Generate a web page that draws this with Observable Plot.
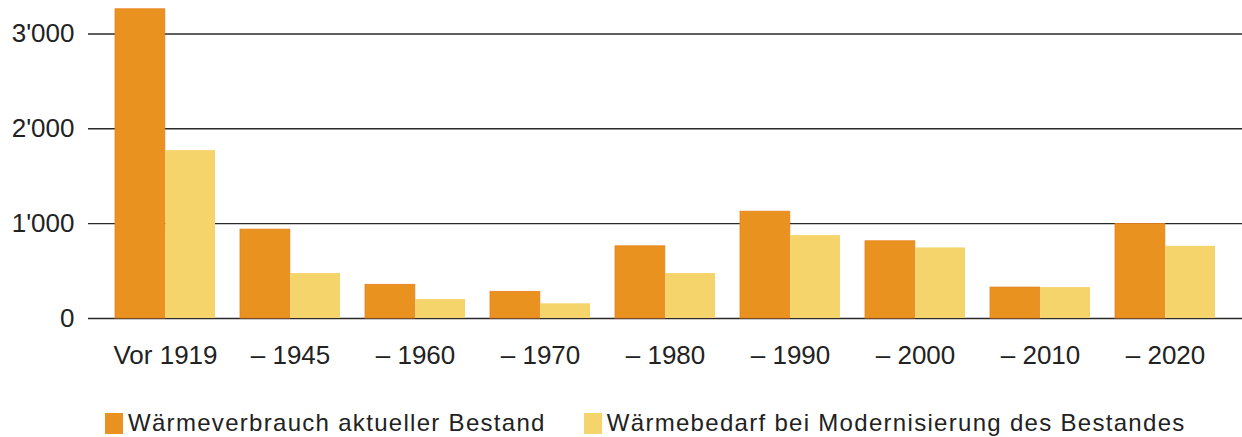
<!DOCTYPE html>
<html>
<head>
<meta charset="utf-8">
<script src="https://cdn.jsdelivr.net/npm/d3@7"></script>
<script src="https://cdn.jsdelivr.net/npm/@observablehq/plot@0.6"></script>
<style>
  html, body { margin: 0; padding: 0; background: #fff; }
  body { width: 1242px; height: 437px; overflow: hidden; font-family: "Liberation Sans", Arial, sans-serif; color: #222; }
  #chart svg { display: block; }
  .legend { display: flex; align-items: center; margin-left: 105px; margin-top: 17px; font-size: 24px; letter-spacing: 1.3px; }
  .legend .item { display: flex; align-items: center; margin-right: 38px; }
  .legend .sw { width: 18px; height: 21px; margin-right: 5px; }
</style>
</head>
<body>
<div id="chart"></div>
<div class="legend" id="legend"></div>
<script>
const periods = ["Vor 1919", "– 1945", "– 1960", "– 1970", "– 1980", "– 1990", "– 2000", "– 2010", "– 2020"];
const verbrauch = [3260, 937, 355, 281, 761, 1126, 814, 326, 997];
const bedarf = [1770, 474, 200, 155, 474, 874, 744, 326, 761];
const seriesNames = ["Wärmeverbrauch aktueller Bestand", "Wärmebedarf bei Modernisierung des Bestandes"];
const seriesColors = ["#e9921f", "#f6d46c"];
const yTicks = [0, 1000, 2000, 3000];
const yTickLabels = ["0", "1'000", "2'000", "3'000"];

const width = 1242, marginLeft = 88, marginRight = 0, pad = 0.2;
const step = (width - marginLeft - marginRight) / (periods.length - pad + 2 * pad);
const half = step * (1 - pad) / 2;

const dataA = periods.map((p, i) => ({period: p, value: verbrauch[i]}));
const dataB = periods.map((p, i) => ({period: p, value: bedarf[i]}));

const chart = Plot.plot({
  width, height: 392,
  marginLeft, marginRight, marginTop: 5, marginBottom: 74,
  style: {fontFamily: "'Liberation Sans', Arial, sans-serif", color: "#222", background: "#fff"},
  x: {domain: periods, padding: pad, label: null},
  y: {domain: [0, 3300], label: null},
  marks: [
    Plot.ruleY(yTicks, {stroke: "#2a2a2a", strokeWidth: 1.4}),
    Plot.barY(dataA, {x: "period", y: "value", fill: seriesColors[0], stroke: "#e6801c", strokeWidth: 0.8, insetRight: half}),
    Plot.barY(dataB, {x: "period", y: "value", fill: seriesColors[1], insetLeft: half}),
    Plot.axisY({ticks: yTicks, tickFormat: (d, i) => yTickLabels[yTicks.indexOf(d)], tickSize: 0, tickPadding: 14, fontSize: 26, label: null}),
    Plot.axisX({tickSize: 0, tickPadding: 27, fontSize: 26, label: null})
  ]
});
document.getElementById("chart").appendChild(chart);

const legend = document.getElementById("legend");
seriesNames.forEach((name, i) => {
  const item = document.createElement("div");
  item.className = "item";
  const sw = document.createElement("div");
  sw.className = "sw";
  sw.style.background = seriesColors[i];
  const t = document.createElement("span");
  t.textContent = name;
  item.appendChild(sw);
  item.appendChild(t);
  legend.appendChild(item);
});
</script>
</body>
</html>
